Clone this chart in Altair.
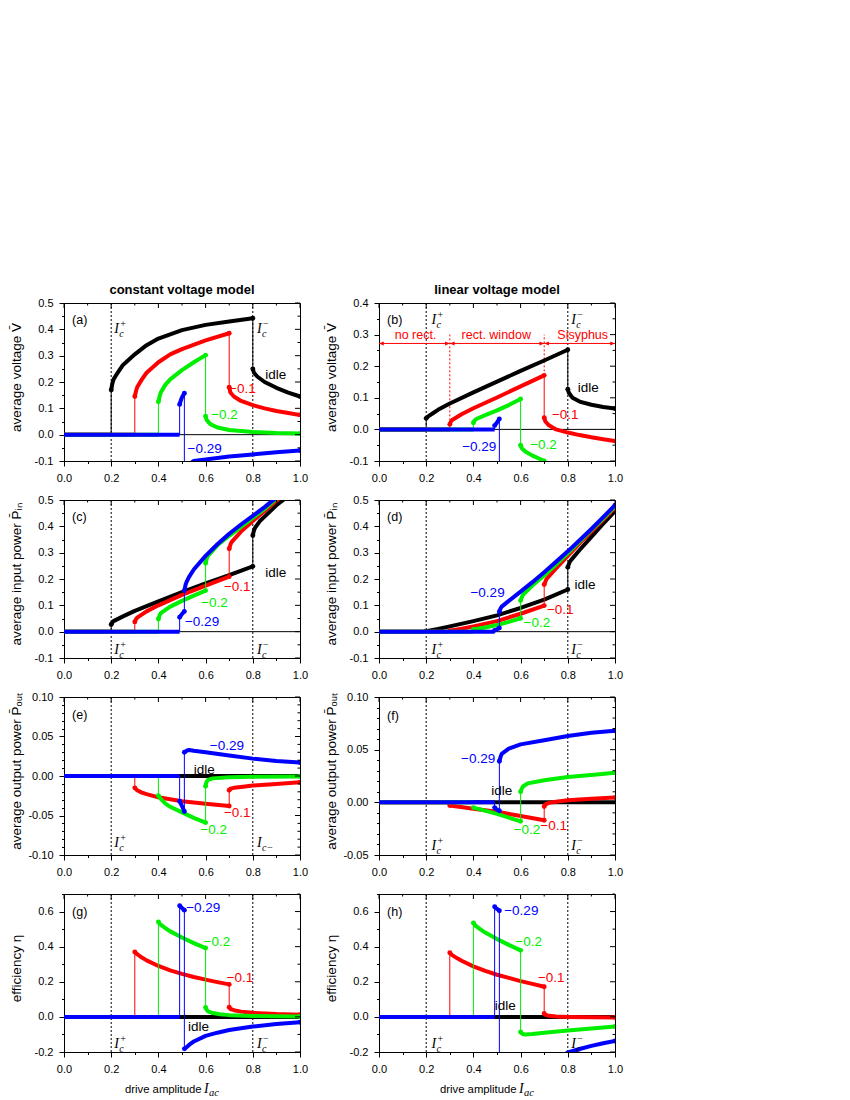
import altair as alt
import pandas as pd

FONT = "Arial, 'Liberation Sans', Helvetica, sans-serif"
SERIF = "'Times New Roman', 'Liberation Serif', serif"
W, H = 236, 158
COL = {"k": "#000000", "r": "#ff0000", "g": "#00ee00", "b": "#0000ff"}
MINUS = "\u2212"

# ---------------- axis tick values ----------------
X_TICKS = [0.0, 0.1, 0.2, 0.3, 0.4, 0.5, 0.6, 0.7, 0.8, 0.9, 1.0]
IC_LINES = [0.2, 0.8]
Y_TICKS_V = [-0.1, -0.05, 0.0, 0.05, 0.1, 0.15, 0.2, 0.25, 0.3, 0.35, 0.4, 0.45, 0.5]
Y_TICKS_B = [-0.1, -0.05, 0.0, 0.05, 0.1, 0.15, 0.2, 0.25, 0.3, 0.35, 0.4]
Y_TICKS_E = [-0.1, -0.09, -0.08, -0.07, -0.06, -0.05, -0.04, -0.03, -0.02, -0.01, 0.0,
             0.01, 0.02, 0.03, 0.04, 0.05, 0.06, 0.07, 0.08, 0.09, 0.1]
Y_TICKS_F = [-0.05, -0.04, -0.03, -0.02, -0.01, 0.0, 0.01, 0.02, 0.03, 0.04, 0.05,
             0.06, 0.07, 0.08, 0.09, 0.1]
Y_TICKS_G = [-0.2, -0.1, 0.0, 0.1, 0.2, 0.3, 0.4, 0.5, 0.6, 0.7]

# ---------------- (a) constant voltage model: average voltage ----------------
A_IDLE = [[(0.0, 0.0), (0.2, 0.0)],
          [(0.2, 0.17), (0.205, 0.195), (0.21, 0.21), (0.22, 0.225), (0.25, 0.265), (0.3, 0.305),
           (0.35, 0.34), (0.4, 0.365), (0.5, 0.397), (0.6, 0.417), (0.7, 0.43), (0.8, 0.442)],
          [(0.8, 0.25), (0.805, 0.235), (0.82, 0.22), (0.85, 0.2), (0.9, 0.178), (0.95, 0.16), (1.0, 0.145)]]
A_IDLE_J = [(0.2, 0.0, 0.17), (0.8, 0.442, 0.25)]
A_R = [[(0.0, 0.0), (0.3, 0.0)],
       [(0.3, 0.145), (0.305, 0.165), (0.31, 0.18), (0.33, 0.21), (0.35, 0.235), (0.4, 0.275),
        (0.45, 0.305), (0.5, 0.325), (0.6, 0.358), (0.7, 0.385)],
       [(0.7, 0.18), (0.705, 0.16), (0.72, 0.145), (0.75, 0.128), (0.8, 0.112), (0.85, 0.1),
        (0.9, 0.09), (0.95, 0.082), (1.0, 0.075)]]
A_R_J = [(0.3, 0.0, 0.145), (0.7, 0.385, 0.18)]
A_G = [[(0.0, 0.0), (0.4, 0.0)],
       [(0.4, 0.125), (0.405, 0.145), (0.41, 0.16), (0.43, 0.19), (0.45, 0.21), (0.5, 0.245),
        (0.55, 0.275), (0.6, 0.302)],
       [(0.6, 0.07), (0.605, 0.055), (0.62, 0.04), (0.65, 0.027), (0.7, 0.018), (0.8, 0.01),
        (0.9, 0.006), (1.0, 0.004)]]
A_G_J = [(0.4, 0.0, 0.125), (0.6, 0.302, 0.07)]
A_B = [[(0.0, 0.0), (0.49, 0.0)],
       [(0.49, 0.115), (0.495, 0.13), (0.5, 0.142), (0.51, 0.157)],
       [(0.51, -0.13), (0.53, -0.112), (0.55, -0.1), (0.6, -0.094), (0.7, -0.083), (0.8, -0.075),
        (0.9, -0.067), (1.0, -0.06)]]
A_B_J = [(0.49, 0.0, 0.115), (0.51, 0.157, -0.13)]
A_TEXT = [(0.897, 0.226, "idle", "k"), (0.756, 0.173, MINUS + "0.1", "r"),
          (0.68, 0.074, MINUS + "0.2", "g"), (0.596, -0.053, MINUS + "0.29", "b")]

# ---------------- (b) linear voltage model: average voltage ----------------
B_IDLE = [[(0.0, 0.0), (0.2, 0.0)],
          [(0.2, 0.035), (0.21, 0.042), (0.23, 0.052), (0.25, 0.062), (0.3, 0.082), (0.4, 0.117),
           (0.5, 0.151), (0.6, 0.185), (0.7, 0.218), (0.8, 0.252)],
          [(0.8, 0.127), (0.805, 0.115), (0.82, 0.1), (0.85, 0.088), (0.9, 0.078), (0.95, 0.071), (1.0, 0.066)]]
B_IDLE_J = [(0.2, 0.0, 0.035), (0.8, 0.252, 0.127)]
B_R = [[(0.0, 0.0), (0.3, 0.0)],
       [(0.3, 0.016), (0.305, 0.025), (0.31, 0.03), (0.35, 0.048), (0.4, 0.067), (0.5, 0.101),
        (0.6, 0.136), (0.7, 0.171)],
       [(0.7, 0.037), (0.705, 0.025), (0.72, 0.013), (0.75, 0.0), (0.8, -0.01), (0.85, -0.018),
        (0.9, -0.025), (0.95, -0.031), (1.0, -0.037)]]
B_R_J = [(0.3, 0.0, 0.016), (0.7, 0.171, 0.037)]
B_G = [[(0.0, 0.0), (0.4, 0.0)],
       [(0.4, 0.021), (0.405, 0.028), (0.41, 0.032), (0.45, 0.045), (0.5, 0.06), (0.55, 0.077), (0.6, 0.096)],
       [(0.6, -0.05), (0.605, -0.06), (0.62, -0.07), (0.65, -0.083), (0.68, -0.093), (0.7, -0.1)]]
B_G_J = [(0.4, 0.0, 0.021), (0.6, 0.096, -0.05)]
B_B = [[(0.0, 0.0), (0.49, 0.0)],
       [(0.49, 0.012), (0.5, 0.022), (0.51, 0.033)]]
B_B_J = [(0.49, 0.0, 0.012), (0.51, 0.033, -0.1)]
B_TEXT = [(0.887, 0.132, "idle", "k"), (0.789, 0.044, MINUS + "0.1", "r"),
          (0.697, -0.05, MINUS + "0.2", "g"), (0.425, -0.055, MINUS + "0.29", "b")]
B_REGIONS = [(0.0, 0.3), (0.3, 0.7), (0.7, 1.0)]
B_REGION_TEXT = [(0.155, "no rect."), (0.497, "rect. window"), (0.863, "Sisyphus")]
B_ARROW_Y = 0.272
B_REGION_TEXT_Y = 0.298
B_RED_DOTTED = [(0.3, 0.016, 0.30), (0.7, 0.171, 0.30)]

# ---------------- (c) constant voltage model: input power ----------------
C_IDLE = [[(0.0, 0.0), (0.2, 0.0)],
          [(0.2, 0.027), (0.205, 0.035), (0.21, 0.04), (0.25, 0.058), (0.3, 0.079), (0.4, 0.115),
           (0.5, 0.15), (0.6, 0.183), (0.7, 0.215), (0.8, 0.248)],
          [(0.8, 0.365), (0.805, 0.385), (0.81, 0.395), (0.83, 0.42), (0.85, 0.437), (0.9, 0.48),
           (0.95, 0.515), (1.0, 0.55)]]
C_IDLE_J = [(0.2, 0.0, 0.027), (0.8, 0.248, 0.365)]
C_R = [[(0.0, 0.0), (0.3, 0.0)],
       [(0.3, 0.037), (0.305, 0.047), (0.31, 0.053), (0.35, 0.077), (0.4, 0.1), (0.5, 0.14),
        (0.6, 0.175), (0.7, 0.209)],
       [(0.7, 0.315), (0.705, 0.33), (0.71, 0.34), (0.75, 0.38), (0.8, 0.42), (0.85, 0.458),
        (0.9, 0.497), (1.0, 0.57)]]
C_R_J = [(0.3, 0.0, 0.037), (0.7, 0.209, 0.315)]
C_G = [[(0.0, 0.0), (0.4, 0.0)],
       [(0.4, 0.048), (0.405, 0.062), (0.41, 0.07), (0.45, 0.095), (0.5, 0.117), (0.55, 0.137), (0.6, 0.156)],
       [(0.6, 0.26), (0.605, 0.278), (0.61, 0.288), (0.65, 0.328), (0.7, 0.364), (0.75, 0.398),
        (0.8, 0.432), (0.85, 0.466), (0.9, 0.505), (1.0, 0.575)]]
C_G_J = [(0.4, 0.0, 0.048), (0.6, 0.156, 0.26)]
C_B = [[(0.0, 0.0), (0.49, 0.0)],
       [(0.49, 0.055), (0.5, 0.067), (0.51, 0.077)],
       [(0.51, 0.156), (0.515, 0.178), (0.52, 0.19), (0.53, 0.208), (0.55, 0.236), (0.6, 0.288),
        (0.65, 0.332), (0.7, 0.372), (0.75, 0.407), (0.8, 0.44), (0.85, 0.473), (0.9, 0.51), (1.0, 0.58)]]
C_B_J = [(0.49, 0.0, 0.055), (0.51, 0.077, 0.156)]
C_TEXT = [(0.897, 0.223, "idle", "k"), (0.734, 0.17, MINUS + "0.1", "r"),
          (0.637, 0.109, MINUS + "0.2", "g"), (0.585, 0.037, MINUS + "0.29", "b")]

# ---------------- (d) linear voltage model: input power ----------------
D_IDLE = [[(0.0, 0.0), (0.2, 0.0)],
          [(0.2, 0.002), (0.25, 0.01), (0.3, 0.02), (0.4, 0.04), (0.5, 0.062), (0.6, 0.09),
           (0.7, 0.122), (0.8, 0.16)],
          [(0.8, 0.245), (0.805, 0.258), (0.81, 0.268), (0.85, 0.31), (0.9, 0.36), (0.95, 0.41), (1.0, 0.458)]]
D_IDLE_J = [(0.8, 0.16, 0.245)]
D_R = [[(0.0, 0.0), (0.3, 0.0)],
       [(0.3, 0.004), (0.35, 0.011), (0.4, 0.02), (0.5, 0.04), (0.6, 0.068), (0.7, 0.099)],
       [(0.7, 0.179), (0.705, 0.19), (0.71, 0.2), (0.75, 0.24), (0.8, 0.288), (0.85, 0.335),
        (0.9, 0.38), (0.95, 0.425), (1.0, 0.47)]]
D_R_J = [(0.7, 0.099, 0.179)]
D_G = [[(0.0, 0.0), (0.4, 0.0)],
       [(0.4, 0.008), (0.45, 0.016), (0.5, 0.025), (0.55, 0.037), (0.6, 0.051)],
       [(0.6, 0.118), (0.605, 0.13), (0.61, 0.14), (0.65, 0.175), (0.7, 0.213), (0.75, 0.255),
        (0.8, 0.298), (0.85, 0.342), (0.9, 0.387), (0.95, 0.43), (1.0, 0.476)]]
D_G_J = [(0.6, 0.051, 0.118)]
D_B = [[(0.0, 0.0), (0.49, 0.0)],
       [(0.49, 0.005), (0.5, 0.009), (0.51, 0.014)],
       [(0.51, 0.076), (0.515, 0.088), (0.52, 0.095), (0.55, 0.117), (0.6, 0.152), (0.65, 0.188),
        (0.7, 0.226), (0.75, 0.265), (0.8, 0.305), (0.85, 0.347), (0.9, 0.39), (0.95, 0.435), (1.0, 0.48)]]
D_B_J = [(0.49, 0.0, 0.005), (0.51, 0.014, 0.076)]
D_TEXT = [(0.873, 0.176, "idle", "k"), (0.768, 0.081, MINUS + "0.1", "r"),
          (0.669, 0.033, MINUS + "0.2", "g"), (0.46, 0.145, MINUS + "0.29", "b")]

# ---------------- (e) constant voltage model: output power ----------------
E_IDLE = [[(0.0, 0.0), (1.0, 0.0)]]
E_IDLE_J = []
E_R = [[(0.0, 0.0), (0.3, 0.0)],
       [(0.3, -0.015), (0.31, -0.018), (0.33, -0.021), (0.35, -0.023), (0.4, -0.027), (0.5, -0.032),
        (0.6, -0.035), (0.7, -0.038)],
       [(0.7, -0.018), (0.705, -0.016), (0.72, -0.015), (0.75, -0.014), (0.8, -0.012), (0.9, -0.01), (1.0, -0.008)]]
E_R_J = [(0.3, 0.0, -0.015), (0.7, -0.038, -0.018)]
E_G = [[(0.0, 0.0), (0.4, 0.0)],
       [(0.4, -0.025), (0.41, -0.029), (0.43, -0.035), (0.45, -0.039), (0.5, -0.046), (0.55, -0.053), (0.6, -0.059)],
       [(0.6, -0.013), (0.603, -0.008), (0.61, -0.005), (0.63, -0.003), (0.7, -0.0015), (0.8, -0.001), (1.0, -0.0005)]]
E_G_J = [(0.4, 0.0, -0.025), (0.6, -0.059, -0.013)]
E_B = [[(0.0, 0.0), (0.49, 0.0)],
       [(0.49, -0.032), (0.5, -0.038), (0.51, -0.045)],
       [(0.51, 0.03), (0.52, 0.032), (0.53, 0.033), (0.55, 0.032), (0.6, 0.03), (0.7, 0.026),
        (0.8, 0.022), (0.9, 0.019), (1.0, 0.017)]]
E_B_J = [(0.49, 0.0, -0.032), (0.51, -0.045, 0.03)]
E_TEXT = [(0.69, 0.038, MINUS + "0.29", "b"), (0.594, 0.008, "idle", "k"),
          (0.734, -0.047, MINUS + "0.1", "r"), (0.634, -0.068, MINUS + "0.2", "g")]

# ---------------- (f) linear voltage model: output power ----------------
F_IDLE = [[(0.0, 0.0), (1.0, 0.0)]]
F_IDLE_J = []
F_R = [[(0.0, 0.0), (0.3, 0.0)],
       [(0.3, -0.003), (0.4, -0.006), (0.5, -0.009), (0.6, -0.013), (0.7, -0.017)],
       [(0.7, -0.004), (0.705, -0.002), (0.72, -0.0005), (0.75, 0.0005), (0.8, 0.002), (0.9, 0.0035), (1.0, 0.0045)]]
F_R_J = [(0.7, -0.017, -0.004)]
F_G = [[(0.0, 0.0), (0.4, 0.0)],
       [(0.4, -0.005), (0.5, -0.011), (0.6, -0.018)],
       [(0.6, 0.01), (0.605, 0.013), (0.61, 0.015), (0.63, 0.018), (0.7, 0.021), (0.8, 0.024),
        (0.9, 0.026), (1.0, 0.028)]]
F_G_J = [(0.6, -0.018, 0.01)]
F_B = [[(0.0, 0.0), (0.49, 0.0)],
       [(0.49, -0.005), (0.5, -0.007), (0.51, -0.008)],
       [(0.51, 0.039), (0.515, 0.043), (0.52, 0.046), (0.55, 0.051), (0.6, 0.055), (0.7, 0.059),
        (0.8, 0.063), (0.9, 0.066), (1.0, 0.068)]]
F_B_J = [(0.49, 0.0, -0.005), (0.51, -0.008, 0.039)]
F_TEXT = [(0.42, 0.041, MINUS + "0.29", "b"), (0.52, 0.0105, "idle", "k"),
          (0.627, -0.026, MINUS + "0.2", "g"), (0.74, -0.022, MINUS + "0.1", "r")]

# ---------------- (g) constant voltage model: efficiency ----------------
G_IDLE = [[(0.0, 0.0), (1.0, 0.0)]]
G_IDLE_J = []
G_R = [[(0.0, 0.0), (0.3, 0.0)],
       [(0.3, 0.37), (0.31, 0.357), (0.33, 0.338), (0.35, 0.322), (0.4, 0.29), (0.45, 0.265),
        (0.5, 0.245), (0.55, 0.227), (0.6, 0.212), (0.65, 0.198), (0.7, 0.185)],
       [(0.7, 0.055), (0.705, 0.045), (0.72, 0.038), (0.75, 0.03), (0.8, 0.023), (0.9, 0.016), (1.0, 0.012)]]
G_R_J = [(0.3, 0.0, 0.37), (0.7, 0.185, 0.055)]
G_G = [[(0.0, 0.0), (0.4, 0.0)],
       [(0.4, 0.541), (0.41, 0.525), (0.43, 0.505), (0.45, 0.487), (0.5, 0.452), (0.55, 0.42), (0.6, 0.392)],
       [(0.6, 0.054), (0.605, 0.04), (0.61, 0.032), (0.63, 0.022), (0.66, 0.015), (0.7, 0.01),
        (0.8, 0.005), (0.9, 0.003), (1.0, 0.002)]]
G_G_J = [(0.4, 0.0, 0.541), (0.6, 0.392, 0.054)]
G_B = [[(0.0, 0.0), (0.49, 0.0)],
       [(0.49, 0.633), (0.5, 0.62), (0.51, 0.608)],
       [(0.51, -0.182), (0.52, -0.172), (0.53, -0.16), (0.55, -0.14), (0.6, -0.108), (0.65, -0.09),
        (0.7, -0.075), (0.8, -0.055), (0.9, -0.041), (1.0, -0.03)]]
G_B_J = [(0.49, 0.0, 0.633), (0.51, 0.608, -0.182)]
G_TEXT = [(0.59, 0.621, MINUS + "0.29", "b"), (0.648, 0.426, MINUS + "0.2", "g"),
          (0.746, 0.22, MINUS + "0.1", "r"), (0.57, -0.057, "idle", "k")]

# ---------------- (h) linear voltage model: efficiency ----------------
H_IDLE = [[(0.0, 0.0), (1.0, 0.0)]]
H_IDLE_J = []
H_R = [[(0.0, 0.0), (0.3, 0.0)],
       [(0.3, 0.365), (0.31, 0.352), (0.33, 0.335), (0.35, 0.32), (0.4, 0.288), (0.45, 0.262),
        (0.5, 0.24), (0.55, 0.222), (0.6, 0.204), (0.65, 0.188), (0.7, 0.172)],
       [(0.7, 0.019), (0.705, 0.012), (0.72, 0.006), (0.75, 0.002), (0.8, 0.0), (0.9, -0.002), (1.0, -0.003)]]
H_R_J = [(0.3, 0.0, 0.365), (0.7, 0.172, 0.019)]
H_G = [[(0.0, 0.0), (0.4, 0.0)],
       [(0.4, 0.535), (0.41, 0.518), (0.43, 0.498), (0.45, 0.48), (0.5, 0.443), (0.55, 0.41), (0.6, 0.379)],
       [(0.6, -0.086), (0.605, -0.094), (0.61, -0.098), (0.62, -0.1), (0.65, -0.098), (0.7, -0.09),
        (0.8, -0.078), (0.9, -0.066), (1.0, -0.055)]]
H_G_J = [(0.4, 0.0, 0.535), (0.6, 0.379, -0.086)]
H_B = [[(0.0, 0.0), (0.49, 0.0)],
       [(0.49, 0.627), (0.5, 0.615), (0.51, 0.605)],
       [(0.51, -0.6), (0.6, -0.45), (0.7, -0.3), (0.75, -0.245), (0.8, -0.203), (0.85, -0.183),
        (0.9, -0.165), (0.95, -0.15), (1.0, -0.137)]]
H_B_J = [(0.49, 0.0, 0.627), (0.51, 0.605, -0.6)]
H_TEXT = [(0.603, 0.602, MINUS + "0.29", "b"), (0.634, 0.426, MINUS + "0.2", "g"),
          (0.73, 0.22, MINUS + "0.1", "r"), (0.535, 0.061, "idle", "k")]

# ---------------- panel configuration (built from the arrays above) ----------------
T_V = "average voltage V\u0304"
T_PIN = "average input power P\u0304\u1d62\u2099"
T_POUT = "average output power P\u0304\u2092\u1d64\u209c"
T_ETA = "efficiency \u03b7"

PANELS = {
    "a": dict(ylim=(-0.1, 0.5), yt=Y_TICKS_V, major=0.1, fmt=".1f", title=T_V,
              series=[(A_IDLE, A_IDLE_J, "k"), (A_R, A_R_J, "r"), (A_G, A_G_J, "g"), (A_B, A_B_J, "b")],
              text=A_TEXT, letter=("(a)", 0.437),
              ic=[(0.213, 0.40, "c", "+"), (0.818, 0.40, "c", MINUS)]),
    "b": dict(ylim=(-0.1, 0.4), yt=Y_TICKS_B, major=0.1, fmt=".1f", title=T_V,
              series=[(B_IDLE, B_IDLE_J, "k"), (B_R, B_R_J, "r"), (B_G, B_G_J, "g"), (B_B, B_B_J, "b")],
              text=B_TEXT, letter=("(b)", 0.347),
              ic=[(0.222, 0.347, "c", "+"), (0.815, 0.347, "c", MINUS)]),
    "c": dict(ylim=(-0.1, 0.5), yt=Y_TICKS_V, major=0.1, fmt=".1f", title=T_PIN,
              series=[(C_IDLE, C_IDLE_J, "k"), (C_R, C_R_J, "r"), (C_G, C_G_J, "g"), (C_B, C_B_J, "b")],
              text=C_TEXT, letter=("(c)", 0.437),
              ic=[(0.213, -0.068, "c", "+"), (0.818, -0.068, "c", MINUS)]),
    "d": dict(ylim=(-0.1, 0.5), yt=Y_TICKS_V, major=0.1, fmt=".1f", title=T_PIN,
              series=[(D_IDLE, D_IDLE_J, "k"), (D_R, D_R_J, "r"), (D_G, D_G_J, "g"), (D_B, D_B_J, "b")],
              text=D_TEXT, letter=("(d)", 0.437),
              ic=[(0.222, -0.068, "c", "+"), (0.815, -0.068, "c", MINUS)]),
    "e": dict(ylim=(-0.1, 0.1), yt=Y_TICKS_E, major=0.05, fmt=".2f", title=T_POUT,
              series=[(E_IDLE, E_IDLE_J, "k"), (E_R, E_R_J, "r"), (E_G, E_G_J, "g"), (E_B, E_B_J, "b")],
              text=E_TEXT, letter=("(e)", 0.077),
              ic=[(0.213, -0.085, "c", "+"), (0.818, -0.085, "c" + MINUS, "")]),
    "f": dict(ylim=(-0.05, 0.1), yt=Y_TICKS_F, major=0.05, fmt=".2f", title=T_POUT,
              series=[(F_IDLE, F_IDLE_J, "k"), (F_R, F_R_J, "r"), (F_G, F_G_J, "g"), (F_B, F_B_J, "b")],
              text=F_TEXT, letter=("(f)", 0.082),
              ic=[(0.222, -0.041, "c", "+"), (0.815, -0.041, "c", MINUS)]),
    "g": dict(ylim=(-0.2, 0.7), yt=Y_TICKS_G, major=0.2, fmt=".1f", title=T_ETA,
              series=[(G_IDLE, G_IDLE_J, "k"), (G_R, G_R_J, "r"), (G_G, G_G_J, "g"), (G_B, G_B_J, "b")],
              text=G_TEXT, letter=("(g)", 0.6),
              ic=[(0.213, -0.153, "c", "+"), (0.818, -0.153, "c", MINUS)]),
    "h": dict(ylim=(-0.2, 0.7), yt=Y_TICKS_G, major=0.2, fmt=".1f", title=T_ETA,
              series=[(H_IDLE, H_IDLE_J, "k"), (H_R, H_R_J, "r"), (H_G, H_G_J, "g"), (H_B, H_B_J, "b")],
              text=H_TEXT, letter=("(h)", 0.6),
              ic=[(0.222, -0.153, "c", "+"), (0.815, -0.153, "c", MINUS)]),
}


def is_major(major):
    return f"abs(datum.value/{major} - round(datum.value/{major})) < 1e-6"


def make_axis(values, major, fmt, title=None):
    kw = dict(
        values=values,
        labelExpr=f"{is_major(major)} ? replace(format(datum.value, '{fmt}'), '{MINUS}', '-') : ''",
        tickSize={"condition": {"test": f"!({is_major(major)})", "value": 2.5}, "value": 5},
        grid=False, labelFlush=False, labelOverlap=False, labelPadding=6,
    )
    if title is None:
        kw["title"] = None
    else:
        kw.update(title=title, titleX=-41, titleY=H / 2 - 5, titleAngle=-90,
                  titleAlign="center", titleBaseline="bottom")
    return alt.Axis(**kw)


def panel(key, col_title=None, bottom=False):
    p = PANELS[key]
    lo, hi = p["ylim"]
    xs = alt.Scale(domain=[0, 1], nice=False, zero=False)
    ys = alt.Scale(domain=[lo, hi], nice=False, zero=False)
    xa = make_axis(X_TICKS, 0.2, ".1f")
    ya = make_axis(p["yt"], p["major"], p["fmt"], p["title"])

    def X(f="x"):
        return alt.X(f"{f}:Q", scale=xs, axis=xa)

    def Y(f="y"):
        return alt.Y(f"{f}:Q", scale=ys, axis=ya)

    layers = []
    # dotted critical-current lines
    layers.append(alt.Chart(pd.DataFrame({"x": IC_LINES})).mark_rule(
        color="black", strokeWidth=1, strokeDash=[2, 2]).encode(x=X()))
    # zero line
    layers.append(alt.Chart(pd.DataFrame({"y": [0.0]})).mark_rule(
        color="black", strokeWidth=1).encode(y=Y()))

    if key == "b":
        reg = pd.DataFrame([{"x": a, "x2": b, "y": B_ARROW_Y} for a, b in B_REGIONS])
        layers.append(alt.Chart(reg).mark_rule(color="#ff0000", strokeWidth=1).encode(
            x=X(), x2="x2:Q", y=Y()))
        heads_r = pd.DataFrame([{"x": b, "y": B_ARROW_Y} for a, b in B_REGIONS])
        heads_l = pd.DataFrame([{"x": a, "y": B_ARROW_Y} for a, b in B_REGIONS])
        layers.append(alt.Chart(heads_r).mark_point(
            shape="M0,0L-1,-0.42L-1,0.42Z", filled=True, size=90, color="#ff0000", opacity=1,
            strokeWidth=0).encode(x=X(), y=Y()))
        layers.append(alt.Chart(heads_l).mark_point(
            shape="M0,0L1,-0.42L1,0.42Z", filled=True, size=90, color="#ff0000", opacity=1,
            strokeWidth=0).encode(x=X(), y=Y()))
        dd = pd.DataFrame(B_RED_DOTTED, columns=["x", "y", "y2"])
        layers.append(alt.Chart(dd).mark_rule(color="#ff0000", strokeWidth=1, strokeDash=[2, 2]).encode(
            x=X(), y=Y(), y2="y2:Q"))
        rt = pd.DataFrame([{"x": x, "y": B_REGION_TEXT_Y, "t": t} for x, t in B_REGION_TEXT])
        layers.append(alt.Chart(rt).mark_text(color="#ff0000", font=FONT, fontSize=12.5,
                                              baseline="middle").encode(x=X(), y=Y(), text="t:N"))

    for segs, jumps, ck in p["series"]:
        color = COL[ck]
        if jumps:
            jd = pd.DataFrame(jumps, columns=["x", "y", "y2"])
            layers.append(alt.Chart(jd).mark_rule(color=color, strokeWidth=1, clip=True).encode(
                x=X(), y=Y(), y2="y2:Q"))
        rows = []
        for s, pts in enumerate(segs):
            for i, (x, y) in enumerate(pts):
                rows.append({"x": x, "y": y, "seg": s, "i": i})
        layers.append(alt.Chart(pd.DataFrame(rows)).mark_line(
            color=color, strokeWidth=4, clip=True, strokeJoin="round").encode(
            x=X(), y=Y(), detail="seg:N", order="i:Q"))
        ends = []
        for pts in segs:
            if any(abs(v[1]) > 0 for v in pts):
                ends.append({"x": pts[0][0], "y": pts[0][1]})
                ends.append({"x": pts[-1][0], "y": pts[-1][1]})
        if ends:
            layers.append(alt.Chart(pd.DataFrame(ends)).mark_circle(
                color=color, size=24, opacity=1, clip=True).encode(x=X(), y=Y()))

    # curve labels
    td = pd.DataFrame([{"x": x, "y": y, "t": t, "c": COL[c]} for x, y, t, c in p["text"]])
    layers.append(alt.Chart(td).mark_text(font=FONT, fontSize=13.5, baseline="middle").encode(
        x=X(), y=Y(), text="t:N", color=alt.Color("c:N", scale=None)))

    # I_c labels
    icd = pd.DataFrame([{"x": x, "y": y, "sub": s, "sup": u} for x, y, s, u in p["ic"]])
    layers.append(alt.Chart(icd).mark_text(text="I", font=SERIF, fontStyle="italic", fontSize=14,
                                           align="left", baseline="middle", color="black").encode(x=X(), y=Y()))
    layers.append(alt.Chart(icd).mark_text(font=SERIF, fontStyle="italic", fontSize=10, dx=5, dy=5,
                                           align="left", baseline="middle", color="black").encode(
        x=X(), y=Y(), text="sub:N"))
    layers.append(alt.Chart(icd).mark_text(font=SERIF, fontSize=10, dx=6, dy=-5,
                                           align="left", baseline="middle", color="black").encode(
        x=X(), y=Y(), text="sup:N"))

    # panel letter
    ld = pd.DataFrame([{"x": 0.034, "y": p["letter"][1], "t": p["letter"][0]}])
    layers.append(alt.Chart(ld).mark_text(font=FONT, fontSize=12.5, align="left", baseline="middle",
                                          color="black").encode(x=X(), y=Y(), text="t:N"))

    # mirrored inward ticks on top and right
    xmaj = pd.DataFrame({"x": [v for v in X_TICKS if round(v * 5, 6) == round(v * 5)]})
    xmin = pd.DataFrame({"x": [v for v in X_TICKS if round(v * 5, 6) != round(v * 5)]})
    layers.append(alt.Chart(xmaj).mark_rule(color="black", strokeWidth=1).encode(
        x=X(), y=alt.value(0), y2=alt.value(5)))
    layers.append(alt.Chart(xmin).mark_rule(color="black", strokeWidth=1).encode(
        x=X(), y=alt.value(0), y2=alt.value(2.5)))
    m = p["major"]
    ymaj = pd.DataFrame({"y": [v for v in p["yt"] if abs(v / m - round(v / m)) < 1e-6]})
    ymin = pd.DataFrame({"y": [v for v in p["yt"] if abs(v / m - round(v / m)) >= 1e-6]})
    layers.append(alt.Chart(ymaj).mark_rule(color="black", strokeWidth=1).encode(
        y=Y(), x=alt.value(W - 5), x2=alt.value(W)))
    layers.append(alt.Chart(ymin).mark_rule(color="black", strokeWidth=1).encode(
        y=Y(), x=alt.value(W - 2.5), x2=alt.value(W)))

    if bottom:
        one = pd.DataFrame({"d": [0]})
        layers.append(alt.Chart(one).mark_text(text="drive amplitude", font=FONT, fontSize=11.3,
                                               align="left", baseline="middle", color="black").encode(
            x=alt.value(61), y=alt.value(H + 38)))
        layers.append(alt.Chart(one).mark_text(text="I", font=SERIF, fontStyle="italic", fontSize=14,
                                               align="left", baseline="middle", color="black").encode(
            x=alt.value(140), y=alt.value(H + 37)))
        layers.append(alt.Chart(one).mark_text(text="ac", font=SERIF, fontStyle="italic", fontSize=10.5,
                                               align="left", baseline="middle", color="black").encode(
            x=alt.value(145), y=alt.value(H + 41)))

    ch = alt.layer(*layers).properties(width=W, height=H)
    if col_title:
        ch = ch.properties(title=alt.TitleParams(col_title, fontSize=13, fontWeight="bold", font=FONT,
                                                 frame="group", anchor="middle", offset=0, color="black"))
    return ch


chart = alt.concat(
    panel("a", "constant voltage model"), panel("b", "linear voltage model"),
    panel("c"), panel("d"),
    panel("e"), panel("f"),
    panel("g", bottom=True), panel("h", bottom=True),
    columns=2, spacing={"row": 39, "column": 79}, bounds="flush",
).properties(
    padding={"left": 0, "top": 275, "right": 5, "bottom": 5}
).configure_view(stroke="black", strokeWidth=1).configure_axis(
    labelFont=FONT, labelFontSize=11, labelColor="black", tickColor="black", domainColor="black",
    tickWidth=1, domainWidth=1, titleFont=FONT, titleFontSize=13.5, titleFontWeight="normal",
    titleColor="black"
)

chart.save("out.html", embed_options={"renderer": "svg", "actions": False})
